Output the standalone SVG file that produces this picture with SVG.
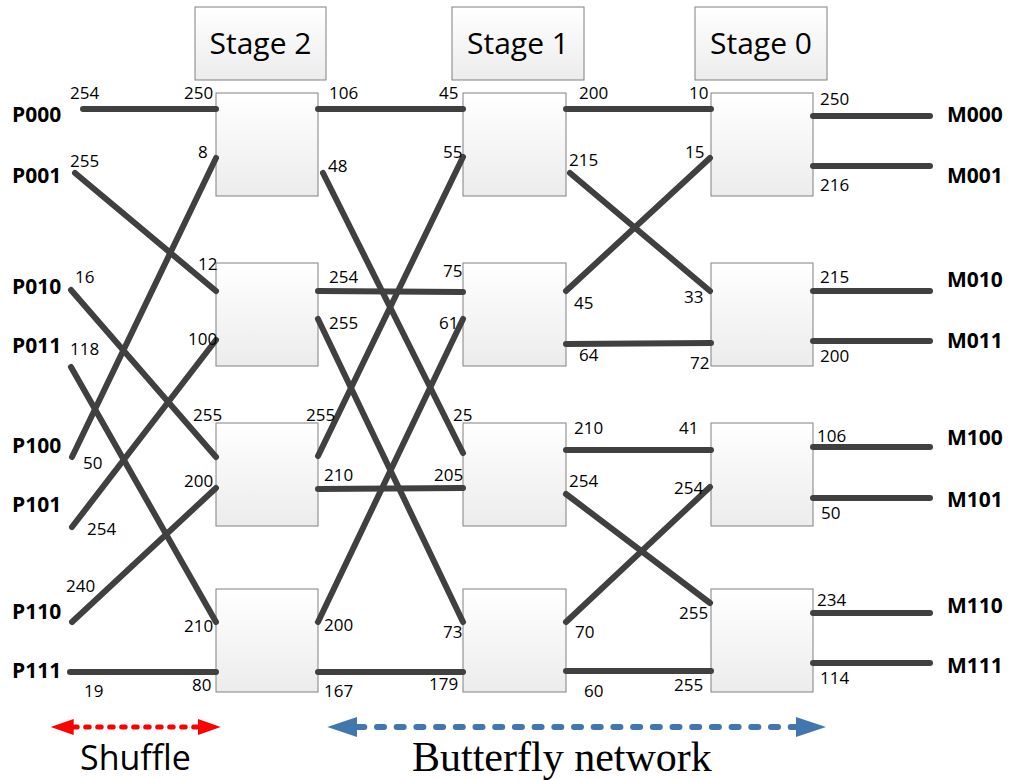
<svg xmlns="http://www.w3.org/2000/svg" width="1014" height="780" viewBox="0 0 1014 780">
  <defs>
    <linearGradient id="boxFill" x1="0" y1="0" x2="0" y2="1">
      <stop offset="0" stop-color="#ffffff"/>
      <stop offset="1" stop-color="#ececec"/>
    </linearGradient>
    <marker id="headRed" markerUnits="userSpaceOnUse" markerWidth="24" markerHeight="18" refX="0" refY="8" orient="auto-start-reverse">
      <path d="M0,0 L23,8 L0,16 Z" fill="#ff0000"/>
    </marker>
    <marker id="headBlue" markerUnits="userSpaceOnUse" markerWidth="31" markerHeight="22" refX="0" refY="10" orient="auto-start-reverse">
      <path d="M0,0 L30,10 L0,20 Z" fill="#4177ae"/>
    </marker>
    <style>
      .sw { fill: url(#boxFill); stroke: #808080; stroke-width: 1; }
      .hd { fill: url(#boxFill); stroke: #808080; stroke-width: 1; }
      .hdt { font-family: "Open Sans", "DejaVu Sans", sans-serif; font-size: 30px; fill: #000; text-anchor: middle; }
      .w { stroke: #404040; stroke-width: 6; stroke-linecap: round; fill: none; }
      .n { font-family: "Open Sans", "DejaVu Sans", sans-serif; font-size: 17px; fill: #000; }
      .io { font-family: "Open Sans", "DejaVu Sans", sans-serif; font-size: 21px; font-weight: bold; fill: #000; }
    </style>
  </defs>
  <rect width="1014" height="780" fill="#ffffff"/>

  <!-- stage headers -->
  <g id="stage2">
    <rect class="hd" x="195" y="7" width="131" height="73"/>
    <text class="hdt" x="260.5" y="54">Stage 2</text>
  </g>
  <g id="stage1">
    <rect class="hd" x="452" y="7" width="132" height="73"/>
    <text class="hdt" x="518" y="54">Stage 1</text>
  </g>
  <g id="stage0">
    <rect class="hd" x="695" y="7" width="132" height="73"/>
    <text class="hdt" x="761" y="54">Stage 0</text>
  </g>

  <!-- switch boxes: stage 2 -->
  <g id="s2r0"><rect class="sw" x="216" y="93" width="102" height="103"/></g>
  <g id="s2r1"><rect class="sw" x="216" y="263" width="102" height="103"/></g>
  <g id="s2r2"><rect class="sw" x="216" y="423" width="102" height="103"/></g>
  <g id="s2r3"><rect class="sw" x="216" y="589" width="102" height="103"/></g>
  <!-- stage 1 -->
  <g id="s1r0"><rect class="sw" x="463" y="93" width="103" height="103"/></g>
  <g id="s1r1"><rect class="sw" x="463" y="263" width="103" height="103"/></g>
  <g id="s1r2"><rect class="sw" x="463" y="423" width="103" height="103"/></g>
  <g id="s1r3"><rect class="sw" x="463" y="589" width="103" height="103"/></g>
  <!-- stage 0 -->
  <g id="s0r0"><rect class="sw" x="711" y="93" width="102" height="103"/></g>
  <g id="s0r1"><rect class="sw" x="711" y="263" width="102" height="103"/></g>
  <g id="s0r2"><rect class="sw" x="711" y="423" width="102" height="103"/></g>
  <g id="s0r3"><rect class="sw" x="711" y="589" width="102" height="103"/></g>

  <!-- wiring -->
  <g id="connectors">
    <!-- inputs to stage 2 (shuffle) -->
    <line class="w" x1="83" y1="109" x2="216" y2="109"/>
    <line class="w" x1="75" y1="173" x2="216" y2="291"/>
    <line class="w" x1="71" y1="290" x2="216" y2="457"/>
    <line class="w" x1="71" y1="367" x2="216" y2="622"/>
    <line class="w" x1="72" y1="457" x2="216" y2="158"/>
    <line class="w" x1="72" y1="527" x2="216" y2="340"/>
    <line class="w" x1="72" y1="622" x2="216" y2="488"/>
    <line class="w" x1="70" y1="672" x2="216" y2="672"/>
    <!-- stage 2 to stage 1 -->
    <line class="w" x1="318" y1="109" x2="463" y2="109"/>
    <line class="w" x1="323" y1="173" x2="463" y2="453"/>
    <line class="w" x1="318" y1="291" x2="463" y2="292"/>
    <line class="w" x1="318" y1="319" x2="463" y2="622"/>
    <line class="w" x1="318" y1="456" x2="463" y2="157"/>
    <line class="w" x1="318" y1="489" x2="463" y2="488"/>
    <line class="w" x1="318" y1="622" x2="463" y2="319"/>
    <line class="w" x1="318" y1="672" x2="463" y2="672"/>
    <!-- stage 1 to stage 0 -->
    <line class="w" x1="566" y1="109" x2="711" y2="109"/>
    <line class="w" x1="570" y1="173" x2="710" y2="291"/>
    <line class="w" x1="566" y1="291" x2="710" y2="158"/>
    <line class="w" x1="566" y1="344" x2="711" y2="343"/>
    <line class="w" x1="566" y1="450" x2="711" y2="450"/>
    <line class="w" x1="566" y1="494" x2="710" y2="603"/>
    <line class="w" x1="566" y1="622" x2="710" y2="487"/>
    <line class="w" x1="566" y1="671" x2="711" y2="671"/>
    <!-- outputs -->
    <line class="w" x1="813" y1="116" x2="930" y2="116"/>
    <line class="w" x1="813" y1="166" x2="930" y2="166"/>
    <line class="w" x1="813" y1="291" x2="930" y2="291"/>
    <line class="w" x1="813" y1="341" x2="930" y2="341"/>
    <line class="w" x1="813" y1="447" x2="930" y2="447"/>
    <line class="w" x1="813" y1="498" x2="930" y2="498"/>
    <line class="w" x1="813" y1="613" x2="930" y2="613"/>
    <line class="w" x1="813" y1="663" x2="930" y2="663"/>
  </g>

  <!-- port values -->
  <g id="port-labels" class="n">
    <text x="70" y="99">254</text>
    <text x="70" y="167">255</text>
    <text x="75" y="283">16</text>
    <text x="70" y="355">118</text>
    <text x="83" y="469">50</text>
    <text x="87" y="535">254</text>
    <text x="66" y="592">240</text>
    <text x="84" y="697">19</text>

    <text x="184" y="99">250</text>
    <text x="198" y="158">8</text>
    <text x="198" y="270">12</text>
    <text x="188" y="345">100</text>
    <text x="193" y="421">255</text>
    <text x="184" y="487">200</text>
    <text x="184" y="632">210</text>
    <text x="192" y="691">80</text>

    <text x="329" y="99">106</text>
    <text x="328" y="172">48</text>
    <text x="329" y="283">254</text>
    <text x="329" y="329">255</text>
    <text x="306" y="421">255</text>
    <text x="324" y="481">210</text>
    <text x="324" y="631">200</text>
    <text x="324" y="697">167</text>

    <text x="439" y="99">45</text>
    <text x="443" y="158">55</text>
    <text x="443" y="277">75</text>
    <text x="439" y="329">61</text>
    <text x="453" y="421">25</text>
    <text x="434" y="481">205</text>
    <text x="443" y="638">73</text>
    <text x="429" y="690">179</text>

    <text x="579" y="99">200</text>
    <text x="569" y="166">215</text>
    <text x="574" y="309">45</text>
    <text x="579" y="361">64</text>
    <text x="574" y="434">210</text>
    <text x="569" y="487">254</text>
    <text x="575" y="638">70</text>
    <text x="584" y="697">60</text>

    <text x="689" y="99">10</text>
    <text x="685" y="158">15</text>
    <text x="684" y="303">33</text>
    <text x="690" y="369">72</text>
    <text x="679" y="434">41</text>
    <text x="674" y="494">254</text>
    <text x="679" y="619">255</text>
    <text x="674" y="691">255</text>

    <text x="820" y="105">250</text>
    <text x="820" y="191">216</text>
    <text x="820" y="283">215</text>
    <text x="820" y="362">200</text>
    <text x="817" y="442">106</text>
    <text x="821" y="519">50</text>
    <text x="817" y="606">234</text>
    <text x="820" y="684">114</text>
  </g>

  <!-- inputs -->
  <g id="inputs" class="io">
    <text x="12" y="122">P000</text>
    <text x="12" y="183">P001</text>
    <text x="12" y="294">P010</text>
    <text x="12" y="353">P011</text>
    <text x="12" y="453">P100</text>
    <text x="12" y="512">P101</text>
    <text x="12" y="619">P110</text>
    <text x="12" y="678">P111</text>
  </g>

  <!-- outputs -->
  <g id="outputs" class="io">
    <text x="947" y="122">M000</text>
    <text x="947" y="183">M001</text>
    <text x="947" y="287">M010</text>
    <text x="947" y="348">M011</text>
    <text x="947" y="445">M100</text>
    <text x="947" y="507">M101</text>
    <text x="947" y="613">M110</text>
    <text x="947" y="673">M111</text>
  </g>

  <!-- span indicators -->
  <g id="shuffle-span">
    <path d="M73.7,727 H197.7" stroke="#ff0000" stroke-width="5" stroke-linecap="round" stroke-dasharray="3.5 8.5" fill="none" marker-start="url(#headRed)" marker-end="url(#headRed)"/>
    <text x="80" y="770" font-family="'Open Sans', 'DejaVu Sans', sans-serif" font-size="34" fill="#000">Shuffle</text>
  </g>
  <g id="butterfly-span">
    <path d="M357.3,727 H796" stroke="#4177ae" stroke-width="6" stroke-linecap="round" stroke-dasharray="7 12.7" fill="none" marker-start="url(#headBlue)" marker-end="url(#headBlue)"/>
    <text x="412" y="771" font-family="'Liberation Serif', 'Times New Roman', serif" font-size="42" fill="#000">Butterfly network</text>
  </g>
</svg>
